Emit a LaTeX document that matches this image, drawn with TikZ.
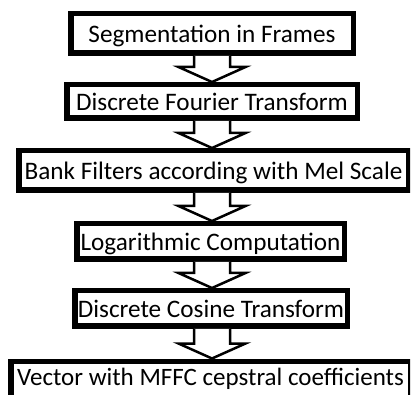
\documentclass[tikz,border=0pt]{standalone}
\usepackage{fontspec}
\setmainfont{Carlito}
\usetikzlibrary{calc}
\newcommand\flowarrow[2]{%
  \path[blockarr] let \p1=(#1.south -| axis), \p2=(#2.north -| axis) in
    (\x1-18pt,\y1) -- (\x1-18pt,\y2+15pt) -- (\x1-33.5pt,\y2+15pt) -- (\x2,\y2)
    -- (\x1+33.5pt,\y2+15pt) -- (\x1+18pt,\y2+15pt) -- (\x1+18pt,\y1);}
\begin{document}
\begin{tikzpicture}[x=1pt,y=-1pt,
  stepbox/.style={draw=black,line width=5.5pt,fill=white,inner sep=0pt,
    text height=24pt,text depth=6pt,font=\fontsize{25.2pt}{30pt}\selectfont},
  blockarr/.style={draw=black,line width=2.5pt,fill=white,line join=miter}]
\useasboundingbox (0,0) rectangle (415,395);
\clip (0,0) rectangle (410,395);
\coordinate (axis) at (212,0);
\node[stepbox,minimum width=282.5pt,minimum height=39.5pt] (s1) at (212,33.5) {Segmentation in Frames};
\node[stepbox,minimum width=290.5pt,minimum height=33.5pt] (s2) at (212,101.5) {Discrete Fourier Transform};
\node[stepbox,minimum width=389.5pt,minimum height=39.5pt] (s3) at (213.5,170.5) {Bank Filters according with Mel Scale};
\node[stepbox,minimum width=267.5pt,minimum height=35.5pt] (s4) at (210.5,241.5) {Logarithmic Computation};
\node[stepbox,minimum width=272.5pt,minimum height=35.5pt] (s5) at (211,308.5) {Discrete Cosine Transform};
\node[stepbox,anchor=base,text height=24.25pt,text depth=20pt,minimum width=399.5pt,font=\fontsize{25pt}{30pt}\selectfont] (s6) at (210.5,385.5) {Vector with MFFC cepstral coefficients};
\flowarrow{s1}{s2}
\flowarrow{s2}{s3}
\flowarrow{s3}{s4}
\flowarrow{s4}{s5}
\flowarrow{s5}{s6}
\end{tikzpicture}
\end{document}
